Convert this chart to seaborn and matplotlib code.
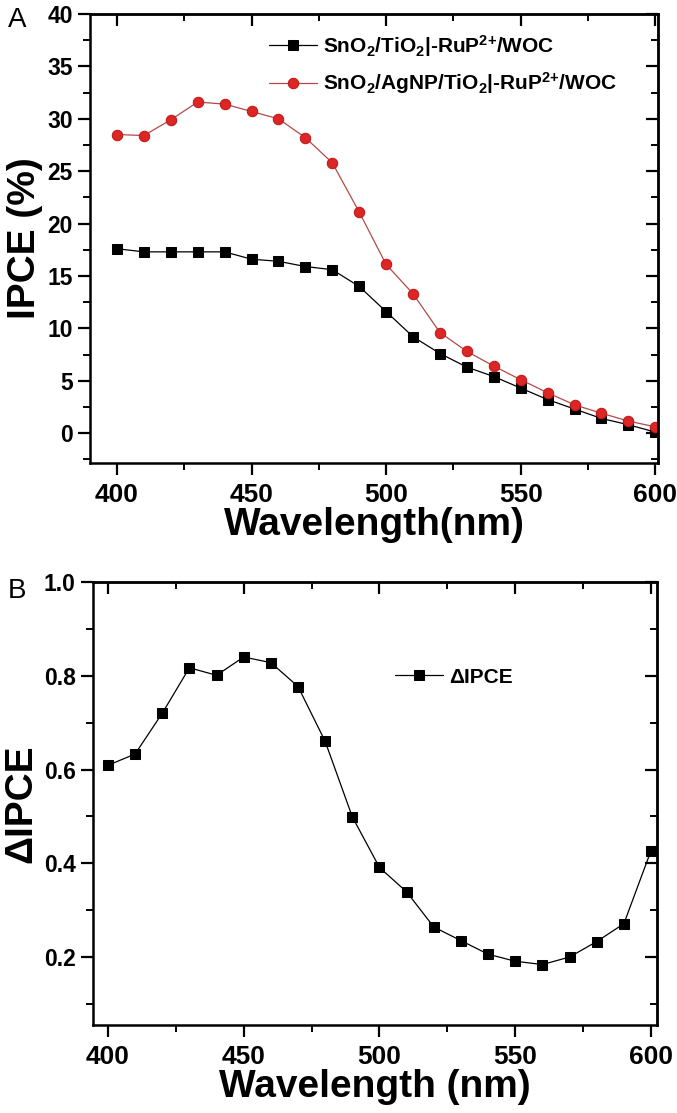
import numpy as np
import pandas as pd
import matplotlib
matplotlib.use("Agg")
import matplotlib.pyplot as plt
import seaborn as sns
from matplotlib.ticker import MultipleLocator

# ---------------- data ----------------
wavelength = [400, 410, 420, 430, 440, 450, 460, 470, 480, 490, 500,
              510, 520, 530, 540, 550, 560, 570, 580, 590, 600]
ipce_plain = [17.6, 17.3, 17.3, 17.3, 17.3, 16.6, 16.4, 15.9, 15.6, 14.0, 11.6,
              9.2, 7.6, 6.3, 5.4, 4.3, 3.2, 2.3, 1.4, 0.8, 0.1]
ipce_agnp = [28.5, 28.4, 29.9, 31.6, 31.4, 30.7, 30.0, 28.2, 25.8, 21.1, 16.1,
             13.3, 9.6, 7.8, 6.4, 5.1, 3.85, 2.7, 1.9, 1.15, 0.6]
delta_ipce = [0.609, 0.633, 0.720, 0.817, 0.801, 0.840, 0.828, 0.777, 0.660, 0.499, 0.391,
              0.339, 0.264, 0.235, 0.206, 0.191, 0.184, 0.200, 0.233, 0.271, 0.427]

label_plain = r"SnO$_2$/TiO$_2$|-RuP$^{\text{2+}}$/WOC"
label_agnp = r"SnO$_2$/AgNP/TiO$_2$|-RuP$^{\text{2+}}$/WOC"
label_delta = "\u0394IPCE"

df = pd.DataFrame({"wl": wavelength, "plain": ipce_plain,
                   "agnp": ipce_agnp, "delta": delta_ipce})

# ---------------- style ----------------
sns.set_theme(style="white")
plt.rcParams["font.family"] = ["Liberation Sans", "DejaVu Sans"]
plt.rcParams["font.weight"] = "bold"
for k in ["text.color", "axes.labelcolor", "xtick.color", "ytick.color",
          "xtick.labelcolor", "ytick.labelcolor"]:
    plt.rcParams[k] = "black"
plt.rcParams["mathtext.fontset"] = "custom"
plt.rcParams["mathtext.rm"] = "Liberation Sans:bold"
plt.rcParams["mathtext.bf"] = "Liberation Sans:bold"
plt.rcParams["mathtext.it"] = "Liberation Sans:bold"
plt.rcParams["mathtext.default"] = "rm"

W, H = 677, 1113
fig = plt.figure(figsize=(W / 100, H / 100), dpi=100)
fig.patch.set_facecolor("white")


def ax_rect(l, t, r, b):
    return [l / W, 1 - b / H, (r - l) / W, (b - t) / H]


axA = fig.add_axes(ax_rect(90, 14, 658, 463))
axB = fig.add_axes(ax_rect(93, 582, 657, 1025))

SPINE_W = 1.8
TICK_FS_Y = 16.5
TICK_FS_X = 19
LABEL_FS = 28
MAJ_LEN, MIN_LEN = 8.5, 5


def style_axes(ax, xmaj, xmin, ymaj, ymin):
    for s in ax.spines.values():
        s.set_linewidth(SPINE_W)
        s.set_color("black")
        s.set_visible(True)
    ax.set_facecolor("white")
    ax.grid(False)
    ax.xaxis.set_major_locator(MultipleLocator(xmaj))
    ax.xaxis.set_minor_locator(MultipleLocator(xmin))
    ax.yaxis.set_major_locator(MultipleLocator(ymaj))
    ax.yaxis.set_minor_locator(MultipleLocator(ymin))
    ax.tick_params(which="both", direction="out", color="black", labelcolor="black",
                   bottom=True, left=True, top=False, right=False)
    ax.tick_params(which="major", length=MAJ_LEN, width=1.6)
    ax.tick_params(which="minor", length=MIN_LEN, width=1.4)
    ax.tick_params(axis="x", labelsize=TICK_FS_X, pad=6)
    ax.tick_params(axis="y", labelsize=TICK_FS_Y, pad=4)
    for lab in ax.get_xticklabels() + ax.get_yticklabels():
        lab.set_fontweight("bold")
    # mirrored inward ticks on top / right
    sx = ax.secondary_xaxis("top")
    sx.xaxis.set_major_locator(MultipleLocator(xmaj))
    sx.xaxis.set_minor_locator(MultipleLocator(xmin))
    sx.tick_params(which="both", direction="in", labeltop=False, color="black")
    sx.tick_params(which="major", length=MAJ_LEN, width=1.6)
    sx.tick_params(which="minor", length=MIN_LEN, width=1.4)
    sx.spines["top"].set_linewidth(SPINE_W)
    sy = ax.secondary_yaxis("right")
    sy.yaxis.set_major_locator(MultipleLocator(ymaj))
    sy.yaxis.set_minor_locator(MultipleLocator(ymin))
    sy.tick_params(which="both", direction="in", labelright=False, color="black")
    sy.tick_params(which="major", length=MAJ_LEN, width=1.6)
    sy.tick_params(which="minor", length=MIN_LEN, width=1.4)
    sy.spines["right"].set_linewidth(SPINE_W)


# ---------------- panel A ----------------
sns.lineplot(data=df, x="wl", y="plain", ax=axA, color="black", linewidth=0.9,
             marker="s", markersize=6.5, markeredgecolor="black",
             markerfacecolor="black", label=label_plain)
sns.lineplot(data=df, x="wl", y="agnp", ax=axA, color="#b24a4a", linewidth=0.9,
             marker="o", markersize=7.5, markeredgecolor="#c01818",
             markerfacecolor="#dc2626", label=label_agnp)
axA.set_xlim(390, 601)
axA.set_ylim(-2.85, 40)
style_axes(axA, 50, 25, 5, 2.5)
axA.set_xlabel("Wavelength(nm)", fontsize=LABEL_FS, fontweight="bold", labelpad=0)
axA.set_ylabel("IPCE (%)", fontsize=LABEL_FS, fontweight="bold", labelpad=3)
legA = axA.legend(loc="upper left", bbox_to_anchor=(0.315, 0.958), frameon=False,
                  fontsize=15, handlelength=2.3, handletextpad=0.3,
                  labelspacing=0.55, borderpad=0, borderaxespad=0)
for t in legA.get_texts():
    t.set_fontweight("bold")

# ---------------- panel B ----------------
sns.lineplot(data=df, x="wl", y="delta", ax=axB, color="black", linewidth=0.9,
             marker="s", markersize=6.5, markeredgecolor="black",
             markerfacecolor="black", label=label_delta)
axB.set_xlim(394.5, 602.2)
axB.set_ylim(0.055, 1.0)
style_axes(axB, 50, 25, 0.2, 0.1)
axB.yaxis.set_major_formatter(matplotlib.ticker.FormatStrFormatter("%.1f"))
axB.set_xlabel("Wavelength (nm)", fontsize=LABEL_FS, fontweight="bold", labelpad=0)
axB.set_ylabel("\u0394IPCE", fontsize=LABEL_FS, fontweight="bold", labelpad=3)
legB = axB.legend(loc="center left", bbox_to_anchor=(0.535, 0.785), frameon=False,
                  fontsize=15, handlelength=2.3, handletextpad=0.3,
                  borderpad=0, borderaxespad=0)
for t in legB.get_texts():
    t.set_fontweight("bold")

# panel letters
fig.text(8 / W, 1 - 27 / H, "A", fontsize=20, fontweight="normal", va="baseline")
fig.text(8 / W, 1 - 598 / H, "B", fontsize=20, fontweight="normal", va="baseline")

fig.savefig("out.png", dpi=100, facecolor="white")
